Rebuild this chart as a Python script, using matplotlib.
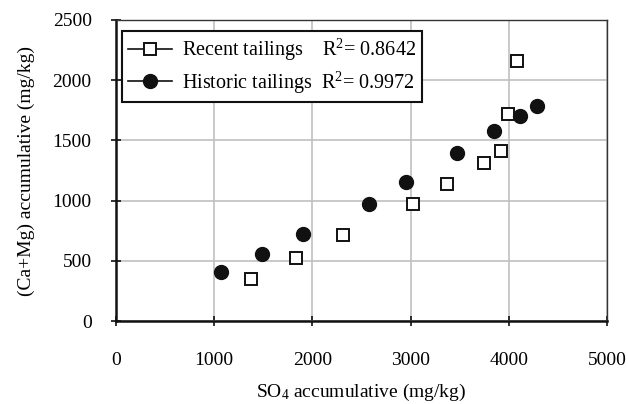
import matplotlib
matplotlib.use("Agg")
import matplotlib.pyplot as plt
from matplotlib.lines import Line2D

plt.rcParams['font.family'] = ['Liberation Serif', 'DejaVu Serif']
plt.rcParams['mathtext.fontset'] = 'custom'
plt.rcParams['mathtext.rm'] = 'Liberation Serif'
plt.rcParams['mathtext.it'] = 'Liberation Serif:italic'

# Data
recent_so4 = [1378, 1833, 2315, 3021, 3374, 3751, 3925, 3989, 4084]
recent_camg = [349, 520, 711, 972, 1138, 1315, 1414, 1716, 2157]
historic_so4 = [1069, 1487, 1904, 2576, 2956, 3469, 3853, 4110, 4283]
historic_camg = [404, 556, 723, 972, 1157, 1393, 1581, 1703, 1783]
recent_r2 = "0.8642"
historic_r2 = "0.9972"
x_ticks = [0, 1000, 2000, 3000, 4000, 5000]
y_ticks = [0, 500, 1000, 1500, 2000, 2500]

fig = plt.figure(figsize=(6.28, 4.04), dpi=100)
ax = fig.add_axes([116/628, 1-321/404, (607-116)/628, (321-20)/404])

ax.plot(recent_so4, recent_camg, linestyle='none', marker='s', markersize=8.5,
        markerfacecolor='white', markeredgecolor='#111111', markeredgewidth=1.4, zorder=3)
ax.plot(historic_so4, historic_camg, linestyle='none', marker='o', markersize=10,
        markerfacecolor='#111111', markeredgecolor='#111111', zorder=3)

ax.set_xlim(0, 5000)
ax.set_ylim(0, 2500)
ax.set_xticks(x_ticks)
ax.set_yticks(y_ticks)
ax.grid(True, color='#c0c0c0', linewidth=1.2)
ax.set_axisbelow(True)

for s in ['left', 'bottom']:
    ax.spines[s].set_linewidth(1.8)
    ax.spines[s].set_color('#111111')
for s in ['top', 'right']:
    ax.spines[s].set_linewidth(1.0)
    ax.spines[s].set_color('#333333')

ax.tick_params(axis='both', direction='inout', length=7, width=1.2, labelsize=14, color='#111111')
ax.tick_params(axis='x', pad=19)
ax.tick_params(axis='y', pad=14)

ax.set_xlabel('SO$_4$ accumulative (mg/kg)', fontsize=14, labelpad=9)
ax.set_ylabel('(Ca+Mg) accumulative (mg/kg)', fontsize=14, labelpad=13)

h1 = Line2D([], [], color='#111111', linewidth=1.2, marker='s', markersize=8,
            markerfacecolor='white', markeredgecolor='#111111', markeredgewidth=1.4)
h2 = Line2D([], [], color='#111111', linewidth=1.2, marker='o', markersize=10,
            markerfacecolor='#111111', markeredgecolor='#111111')
leg = ax.legend([h1, h2],
                ['Recent tailings    R$^2$= ' + recent_r2,
                 'Historic tailings  R$^2$= ' + historic_r2],
                loc='upper left', bbox_to_anchor=(0.012, 0.963), fontsize=14.5,
                frameon=True, fancybox=False, borderaxespad=0, handlelength=2.2,
                handletextpad=0.5, borderpad=0.3, labelspacing=0.3)
leg.get_frame().set_edgecolor('#111111')
leg.get_frame().set_linewidth(1.5)
leg.get_frame().set_alpha(1)

fig.savefig('out.png', dpi=100)
